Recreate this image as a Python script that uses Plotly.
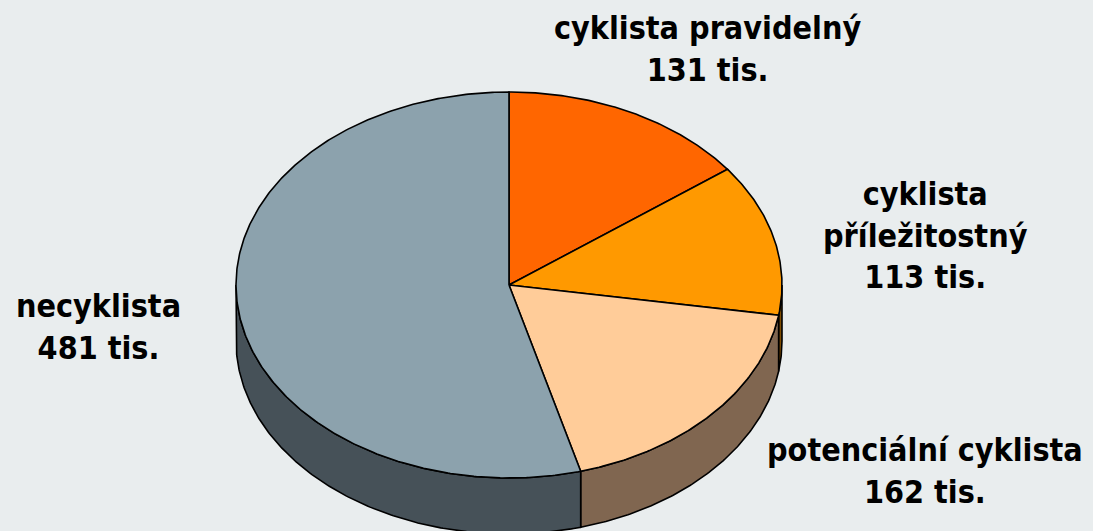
import numpy as np
import plotly.graph_objects as go

# ---- data ----
labels = ["cyklista pravidelný", "cyklista příležitostný", "potenciální cyklista", "necyklista"]
values = [131, 113, 162, 481]
value_text = ["131 tis.", "113 tis.", "162 tis.", "481 tis."]
top_colors = ["#FF6600", "#FF9900", "#FFCC99", "#8CA2AD"]
side_colors = ["#803300", "#804D00", "#806650", "#465158"]

# ---- geometry (pixel space) ----
W, H = 1093, 531
cx, cy, rx, ry, depth = 509, 285, 273, 193, 56
BG = "#E9EDEE"

def pt(theta_deg, dy=0.0):
    t = np.radians(theta_deg)
    return cx + rx * np.sin(t), cy - ry * np.cos(t) + dy

total = sum(values)
bounds = np.concatenate([[0], np.cumsum(values) / total * 360.0])

fig = go.Figure()

# side walls (visible for angles 90..270)
for i in range(len(values)):
    a, b = max(bounds[i], 90), min(bounds[i + 1], 270)
    if b <= a:
        continue
    th = np.linspace(a, b, max(int((b - a) * 2), 2))
    xs_top, ys_top = pt(th)
    xs_bot, ys_bot = pt(th[::-1], depth)
    xs = np.concatenate([xs_top, xs_bot, xs_top[:1]])
    ys = np.concatenate([ys_top, ys_bot, ys_top[:1]])
    fig.add_trace(go.Scatter(x=xs, y=ys, mode="lines", fill="toself",
                             fillcolor=side_colors[i],
                             line=dict(color="black", width=1.6),
                             hoverinfo="skip", showlegend=False))

# top faces
for i in range(len(values)):
    a, b = bounds[i], bounds[i + 1]
    th = np.linspace(a, b, max(int((b - a) * 2), 2))
    xa, ya = pt(th)
    xs = np.concatenate([[cx], xa, [cx]])
    ys = np.concatenate([[cy], ya, [cy]])
    fig.add_trace(go.Scatter(x=xs, y=ys, mode="lines", fill="toself",
                             fillcolor=top_colors[i],
                             line=dict(color="black", width=1.6),
                             hoverinfo="skip", showlegend=False))

# labels
label_pos = [(707, 49), (925, 235), (925, 471), (98, 327)]
label_lines = ["cyklista pravidelný", "cyklista<br>příležitostný", "potenciální cyklista", "necyklista"]
for i in range(len(values)):
    x, y = label_pos[i]
    fig.add_annotation(x=x, y=y, xref="x", yref="y",
                       text=label_lines[i] + "<br>" + value_text[i],
                       showarrow=False, xanchor="center", yanchor="middle",
                       font=dict(family="DejaVu Sans Condensed, DejaVu Sans", size=32,
                                 color="black", weight="bold"))

fig.update_layout(
    width=W, height=H,
    margin=dict(l=0, r=0, t=0, b=0),
    paper_bgcolor=BG, plot_bgcolor=BG,
    xaxis=dict(range=[0, W], visible=False, fixedrange=True),
    yaxis=dict(range=[H, 0], visible=False, fixedrange=True),
    showlegend=False,
)

fig.write_html("out.html", post_script="document.body.style.margin='0';",
               config={"displayModeBar": False})
